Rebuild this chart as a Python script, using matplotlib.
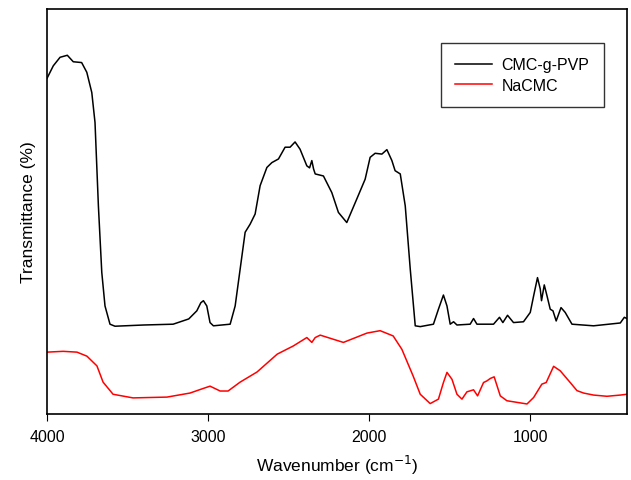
import matplotlib.pyplot as plt

plt.rcParams['font.family'] = ['Liberation Sans', 'DejaVu Sans']

# CMC-g-PVP spectrum (wavenumber, transmittance in arbitrary %)
wn_graft = [4000, 3961, 3919, 3874, 3837, 3785, 3753, 3722, 3702, 3681, 3660, 3640,
            3609, 3578, 3400, 3217, 3120, 3070, 3045, 3029, 3008, 2988, 2967, 2863,
            2832, 2801, 2770, 2739, 2708, 2677, 2635, 2604, 2563, 2522, 2491, 2460,
            2429, 2387, 2370, 2356, 2345, 2335, 2284, 2232, 2191, 2139, 2077, 2025,
            1994, 1963, 1921, 1890, 1859, 1839, 1807, 1776, 1745, 1714, 1683, 1601,
            1570, 1539, 1517, 1497, 1476, 1455, 1373, 1352, 1331, 1228, 1191, 1170,
            1141, 1104, 1042, 1000, 979, 955, 938, 930, 913, 896, 876, 859, 839,
            809, 783, 741, 607, 441, 416, 400]
t_graft = [82.9, 86.0, 88.1, 88.6, 87.0, 86.8, 84.4, 79.4, 72.0, 51.4, 35.0, 26.7,
           22.2, 21.7, 22.0, 22.2, 23.5, 25.5, 27.5, 28.0, 26.7, 22.6, 21.8, 22.2,
           26.7, 35.8, 44.9, 46.9, 49.4, 56.4, 60.9, 62.1, 63.0, 65.9, 65.9, 67.2,
           65.4, 61.3, 60.8, 62.6, 60.5, 59.3, 58.8, 54.7, 49.8, 47.3, 53.1, 58.0,
           63.4, 64.4, 64.2, 65.3, 62.6, 60.1, 59.3, 51.4, 35.8, 21.8, 21.6, 22.2,
           25.9, 29.4, 26.7, 22.2, 22.8, 22.0, 22.2, 23.6, 22.2, 22.2, 23.9, 22.6,
           24.4, 22.6, 22.8, 25.1, 29.2, 33.7, 30.9, 28.0, 31.9, 29.2, 25.9, 25.5, 23.0,
           26.3, 25.1, 22.2, 21.8, 22.5, 23.9, 23.6]

# NaCMC spectrum
wn_na = [4000, 3900, 3814, 3752, 3690, 3652, 3590, 3466, 3255, 3112, 3040, 2988,
         2925, 2876, 2801, 2696, 2571, 2512, 2472, 2387, 2356, 2335, 2304, 2160,
         2014, 1932, 1851, 1797, 1727, 1683, 1621, 1570, 1539, 1517, 1486, 1455,
         1424, 1393, 1352, 1327, 1290, 1269, 1248, 1224, 1186, 1145, 1020, 979,
         928, 901, 855, 814, 752, 710, 669, 607, 524, 441, 400]
t_na = [15.3, 15.5, 15.3, 14.3, 11.9, 7.9, 4.9, 4.0, 4.2, 5.2, 6.2, 6.9,
        5.7, 5.7, 7.9, 10.4, 14.8, 16.0, 16.8, 18.9, 17.7, 18.9, 19.5, 17.7,
        20.0, 20.6, 19.3, 16.0, 9.4, 4.9, 2.6, 3.7, 7.8, 10.3, 8.6, 4.9,
        3.7, 5.5, 6.0, 4.5, 7.8, 8.2, 8.8, 9.2, 4.5, 3.3, 2.5, 4.1,
        7.4, 7.8, 11.8, 10.7, 7.8, 5.8, 5.2, 4.7, 4.4, 4.7, 4.9]

fig = plt.figure(figsize=(6.31, 4.81), dpi=100)
ax = fig.add_axes([0.0745, 0.137, 0.919, 0.842])

ax.plot(wn_graft, t_graft, color='black', linewidth=1.1, label='CMC-g-PVP')
ax.plot(wn_na, t_na, color='red', linewidth=1.1, label='NaCMC')

ax.set_xlim(4000, 400)
ax.set_ylim(0, 100)
ax.set_xticks([4000, 3000, 2000, 1000])
ax.set_yticks([])
ax.tick_params(axis='x', direction='out', length=5, labelsize=11.5, pad=6)
ax.set_xlabel('Wavenumber (cm$^{-1}$)', fontsize=12.5, labelpad=6)
ax.set_ylabel('Transmittance (%)', fontsize=12.5, labelpad=8)
for s in ax.spines.values():
    s.set_linewidth(1.2)

leg = ax.legend(loc='upper right', bbox_to_anchor=(0.96, 0.916), fontsize=11.5,
                frameon=True, fancybox=False, edgecolor='black', handlelength=2.3,
                borderpad=0.9, labelspacing=0.35, handletextpad=0.6, borderaxespad=0)
leg.get_frame().set_linewidth(1.0)

plt.savefig('out.png', dpi=100)
